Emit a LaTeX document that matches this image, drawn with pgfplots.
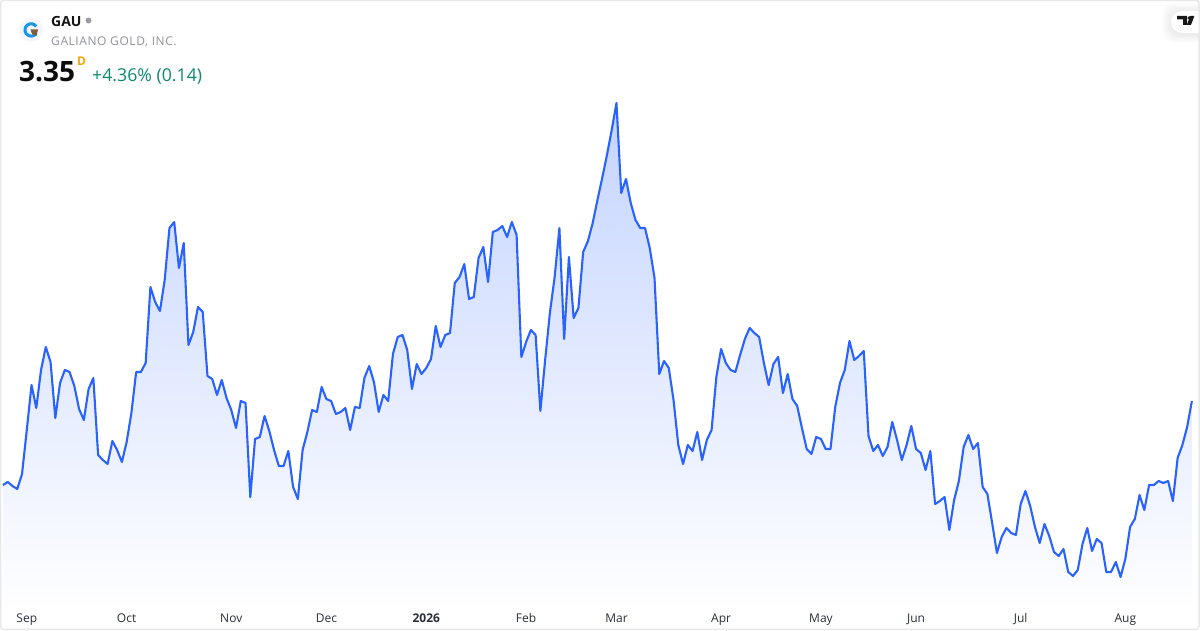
\documentclass[border=0pt]{standalone}
\usepackage{pgfplots}
\usepackage{pgfplotstable}
\usepackage{fontspec}
\pgfplotsset{compat=1.18}
\setmainfont{Open Sans}
\definecolor{linec}{HTML}{2962FF}
\definecolor{areatop}{HTML}{C4D4FF}
\definecolor{areabot}{HTML}{FEFEFF}
\definecolor{framec}{HTML}{E7E8EA}
\definecolor{tickc}{HTML}{2A2E39}
\definecolor{subc}{HTML}{8F9298}
\definecolor{upc}{HTML}{0B8A6F}
\pgfplotstableread[row sep=\\]{
x y\\
0 2.93\\ 1 2.945\\ 2 2.925\\ 3 2.91\\ 4 2.985\\ 5 3.205\\ 6 3.43\\ 7 3.315\\ 8 3.505\\ 9 3.62\\
10 3.545\\ 11 3.265\\ 12 3.44\\ 13 3.505\\ 14 3.495\\ 15 3.425\\ 16 3.31\\ 17 3.255\\ 18 3.41\\ 19 3.465\\
20 3.08\\ 21 3.055\\ 22 3.035\\ 23 3.15\\ 24 3.105\\ 25 3.045\\ 26 3.145\\ 27 3.29\\ 28 3.495\\ 29 3.495\\
30 3.54\\ 31 3.92\\ 32 3.845\\ 33 3.80\\ 34 3.955\\ 35 4.215\\ 36 4.245\\ 37 4.015\\ 38 4.14\\ 39 3.63\\
40 3.695\\ 41 3.82\\ 42 3.795\\ 43 3.475\\ 44 3.46\\ 45 3.38\\ 46 3.455\\ 47 3.365\\ 48 3.305\\ 49 3.215\\
50 3.35\\ 51 3.34\\ 52 2.87\\ 53 3.16\\ 54 3.17\\ 55 3.275\\ 56 3.20\\ 57 3.105\\ 58 3.025\\ 59 3.025\\
60 3.10\\ 61 2.92\\ 62 2.86\\ 63 3.105\\ 64 3.195\\ 65 3.305\\ 66 3.295\\ 67 3.42\\ 68 3.36\\ 69 3.35\\
70 3.285\\ 71 3.295\\ 72 3.315\\ 73 3.205\\ 74 3.32\\ 75 3.315\\ 76 3.465\\ 77 3.525\\ 78 3.445\\ 79 3.295\\
80 3.38\\ 81 3.35\\ 82 3.585\\ 83 3.67\\ 84 3.68\\ 85 3.605\\ 86 3.41\\ 87 3.535\\ 88 3.485\\ 89 3.515\\
90 3.56\\ 91 3.725\\ 92 3.62\\ 93 3.68\\ 94 3.69\\ 95 3.94\\ 96 3.97\\ 97 4.035\\ 98 3.86\\ 99 3.87\\
100 4.065\\ 101 4.12\\ 102 3.945\\ 103 4.195\\ 104 4.205\\ 105 4.225\\ 106 4.17\\ 107 4.245\\ 108 4.18\\ 109 3.57\\
110 3.645\\ 111 3.705\\ 112 3.68\\ 113 3.30\\ 114 3.555\\ 115 3.79\\ 116 3.97\\ 117 4.215\\ 118 3.66\\ 119 4.07\\
120 3.765\\ 121 3.815\\ 122 4.095\\ 123 4.15\\ 124 4.24\\ 125 4.355\\ 126 4.465\\ 127 4.58\\ 128 4.705\\ 129 4.84\\
130 4.39\\ 131 4.46\\ 132 4.34\\ 133 4.255\\ 134 4.215\\ 135 4.215\\ 136 4.115\\ 137 3.965\\ 138 3.485\\ 139 3.55\\
140 3.515\\ 141 3.355\\ 142 3.13\\ 143 3.035\\ 144 3.13\\ 145 3.10\\ 146 3.195\\ 147 3.055\\ 148 3.155\\ 149 3.205\\
150 3.47\\ 151 3.61\\ 152 3.54\\ 153 3.505\\ 154 3.495\\ 155 3.58\\ 156 3.66\\ 157 3.715\\ 158 3.69\\ 159 3.67\\
160 3.54\\ 161 3.43\\ 162 3.535\\ 163 3.57\\ 164 3.39\\ 165 3.485\\ 166 3.36\\ 167 3.325\\ 168 3.215\\ 169 3.11\\
170 3.085\\ 171 3.17\\ 172 3.16\\ 173 3.11\\ 174 3.11\\ 175 3.32\\ 176 3.44\\ 177 3.505\\ 178 3.65\\ 179 3.555\\
180 3.575\\ 181 3.60\\ 182 3.175\\ 183 3.10\\ 184 3.13\\ 185 3.075\\ 186 3.12\\ 187 3.245\\ 188 3.155\\ 189 3.055\\
190 3.13\\ 191 3.225\\ 192 3.11\\ 193 3.09\\ 194 3.005\\ 195 3.10\\ 196 2.835\\ 197 2.85\\ 198 2.87\\ 199 2.705\\
200 2.855\\ 201 2.95\\ 202 3.12\\ 203 3.18\\ 204 3.11\\ 205 3.14\\ 206 2.92\\ 207 2.885\\ 208 2.74\\ 209 2.59\\
210 2.67\\ 211 2.715\\ 212 2.69\\ 213 2.68\\ 214 2.835\\ 215 2.90\\ 216 2.825\\ 217 2.72\\ 218 2.64\\ 219 2.735\\
220 2.675\\ 221 2.595\\ 222 2.575\\ 223 2.61\\ 224 2.495\\ 225 2.475\\ 226 2.505\\ 227 2.635\\ 228 2.715\\ 229 2.60\\
230 2.66\\ 231 2.64\\ 232 2.495\\ 233 2.495\\ 234 2.545\\ 235 2.47\\ 236 2.56\\ 237 2.72\\ 238 2.76\\ 239 2.88\\
240 2.805\\ 241 2.93\\ 242 2.93\\ 243 2.95\\ 244 2.94\\ 245 2.95\\ 246 2.85\\ 247 3.065\\ 248 3.13\\ 249 3.22\\
250 3.35\\
}\pricedata
\begin{document}
\begin{tikzpicture}[x=1pt,y=1pt]
\path[use as bounding box] (0,0) rectangle (1200,630);
\fill[white] (0,0) rectangle (1200,630);
\begin{axis}[
  at={(0pt,27pt)}, anchor=south west,
  width=1200pt, height=603pt, scale only axis,
  xmin=-0.631, xmax=251.7,
  ymin=2.34, ymax=5.355,
  axis line style={draw=none},
  major tick length=0pt,
  ytick=\empty,
  xtick={5,26,48,68,89,110,129,151,172,192,214,236},
  xticklabels={Sep,Oct,Nov,Dec,\textbf{2026},Feb,Mar,Apr,May,Jun,Jul,Aug},
  x tick label style={anchor=base, yshift=-19pt, text=tickc, font=\fontsize{12}{14}\selectfont},
]
\addplot[draw=none, top color=areatop, bottom color=areabot] table[x=x,y=y] {\pricedata} \closedcycle;
\addplot[linec, line width=2.1pt, line join=round, mark=none] table[x=x,y=y] {\pricedata};
\end{axis}
% frame
\draw[framec, line width=1.5pt, rounded corners=3pt] (0.5,0.75) rectangle (1199,629.5);
% logo
\fill[blue!4!white] (31,600) circle (12);
\draw[color={rgb,255:red,24;green,150;blue,225}, line width=3pt] (36.2,603.6) arc[start angle=35,end angle=325,radius=6.2];
\fill[color={rgb,255:red,125;green,95;blue,60}] (30.5,600.5) -- (38,600.5) -- (36.5,594) -- (32,596) -- cycle;
% header text
\node[anchor=base west, inner sep=0pt, text=black!92] at (51,603) {\fontsize{14}{16}\selectfont\bfseries GAU};
\fill[color={rgb,255:red,155;green,157;blue,163}] (88.5,609.5) circle (3);
\node[anchor=base west, inner sep=0pt, text=subc] at (51,584.5) {\fontsize{12}{14}\selectfont\addfontfeature{LetterSpace=4.8}GALIANO GOLD, INC.};
\node[anchor=base west, inner sep=0pt, text=black!95] at (19,548.5) {\fontsize{28}{32}\selectfont\bfseries 3.35};
\node[anchor=base west, inner sep=0pt, text={rgb,255:red,247;green,166;blue,0}] at (77,564) {\fontsize{12}{14}\selectfont\bfseries D};
\node[anchor=base west, inner sep=0pt, text=upc] at (92,548.5) {\fontsize{17.7}{20}\selectfont +4.36\% (0.14)};
% TV badge
\begin{scope}
\clip (0,0) rectangle (1198.5,629);
\foreach \s in {9,8,7,6,5,4,3,2,1}{
  \fill[black,opacity=0.008,rounded corners=11pt] (1171-\s,597-\s-1) rectangle (1215,619+\s-1);
}
\fill[white,rounded corners=11pt] (1171,597) rectangle (1215,619);
\end{scope}
\fill[black!90] (1177,614) -- (1187,614) -- (1187,605.2) -- (1183,605.2) -- (1183,610.5) -- (1177,610.5) -- cycle;
\fill[black!90] (1189.3,612) circle (1.9);
\fill[black!90] (1194.4,614) -- (1190.3,614) -- (1186.8,605.2) -- (1191,605.2) -- cycle;
\end{tikzpicture}
\end{document}
